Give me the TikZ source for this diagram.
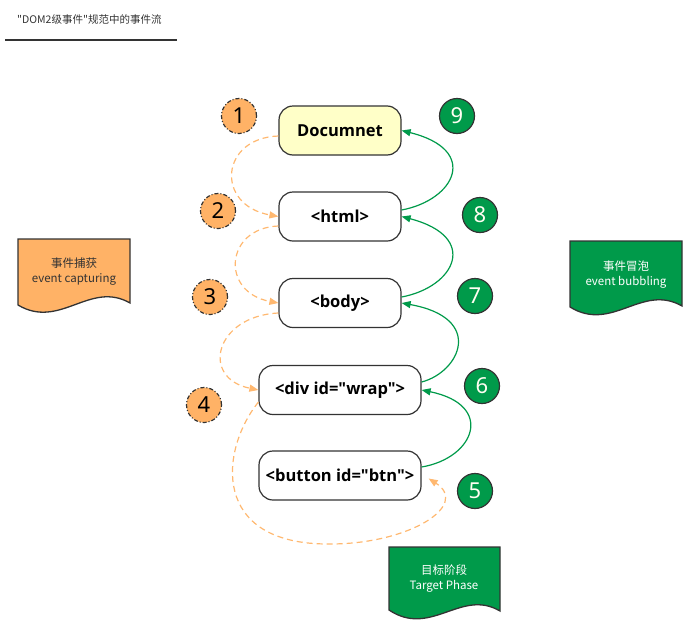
\documentclass[tikz,border=0pt]{standalone}
\usepackage{fontspec}
\setmainfont{Noto Sans}
\newfontfamily\cjk{Noto Sans CJK SC}
\newfontfamily\elemfont{Open Sans}
\usetikzlibrary{arrows.meta}
\newcommand\dq{\symbol{34}}
\definecolor{orfill}{HTML}{FFB266}
\definecolor{orline}{HTML}{FFB870}
\definecolor{gr}{HTML}{009A4A}
\definecolor{bd}{HTML}{333333}
\definecolor{docyel}{HTML}{FFFFC8}
\tikzset{
  elem/.style={draw=bd, line width=1.2pt, rounded corners=14pt, fill=white,
    minimum height=49pt, inner sep=0pt, font=\elemfont\bfseries\fontsize{16.5}{19}\selectfont},
  ocirc/.style={circle, draw=bd, line width=1.2pt, dash pattern=on 4pt off 2pt on 1pt off 2pt,
    fill=orfill, minimum size=35pt, inner sep=0pt, font=\fontsize{22}{24}\selectfont},
  gcirc/.style={circle, draw=bd, line width=1.2pt, fill=gr, text=white!95!yellow,
    minimum size=35pt, inner sep=0pt, font=\fontsize{22}{24}\selectfont},
  garrow/.style={draw=gr, line width=1.2pt, -{Triangle[length=9pt,width=7pt]}},
  oarrow/.style={draw=orline, line width=1.2pt, dashed, dash pattern=on 6pt off 4pt, -{Triangle[length=9pt,width=7pt]}},
  docbox/.style={draw=bd, line width=1.3pt},
  doctext/.style={align=center, font=\cjk\fontsize{11.5}{15}\selectfont, inner sep=0pt}
}
\begin{document}
\begin{tikzpicture}[x=1pt,y=-1pt]
\useasboundingbox (0,0) rectangle (698,632);
% title
\node[anchor=west, inner sep=0pt, text=bd, font=\cjk\fontsize{10.5}{12}\selectfont] (title) at (17,20) {\dq DOM2级事件\dq 规范中的事件流};
\draw[bd, line width=1.5pt] (5,40) coordinate (tl) -- (177,40) coordinate (tr);
% elements
\node[elem, fill=docyel, minimum width=122pt] (doc) at (340,130.5) {Documnet};
\node[elem, minimum width=122pt] (html) at (340,216.5) {<html>};
\node[elem, minimum width=122pt] (body) at (340,303) {<body>};
\node[elem, minimum width=162pt] (div) at (340,390) {<div id=\dq wrap\dq>};
\node[elem, minimum width=162pt] (btn) at (340,475.5) {<button id=\dq btn\dq>};
% orange circles
\node[ocirc] (c1) at (239,116) {1};
\node[ocirc] (c2) at (218,211) {2};
\node[ocirc] (c3) at (210,297) {3};
\node[ocirc] (c4) at (204,405) {4};
% green circles
\node[gcirc] (c9) at (457,116) {9};
\node[gcirc] (c8) at (480,215) {8};
\node[gcirc] (c7) at (475,296) {7};
\node[gcirc] (c6) at (482,386) {6};
\node[gcirc] (c5) at (475,491) {5};
% capture arrows
\draw[oarrow] ([yshift=-5.5pt]doc.west) .. controls (220,138) and (215,205) .. (html.west);
\draw[oarrow] ([yshift=-9.5pt]html.west) .. controls (225,228) and (220,292) .. (body.west);
\draw[oarrow] ([yshift=-10pt]body.west) .. controls (215,316) and (200,378) .. (div.west);
\draw[oarrow] ([yshift=-12pt]div.west) .. controls (220,450) and (210,545) .. (330,544)
   .. controls (410,544) and (470,505) .. ([xshift=7pt,yshift=-3pt]btn.east);
% bubble arrows
\draw[garrow] ([yshift=6.5pt]html.east) .. controls (455,200) and (480,150) .. (doc.east);
\draw[garrow] ([yshift=6pt]body.east) .. controls (455,287) and (480,237) .. (html.east);
\draw[garrow] ([yshift=8pt]div.east) .. controls (460,372) and (485,318) .. (body.east);
\draw[garrow] ([yshift=8.5pt]btn.east) .. controls (475,458) and (495,405) .. (div.east);
% document shapes
\draw[docbox, fill=orfill] (18,239) coordinate (d1) -- (130,239) -- (130,303) .. controls (90,280) and (60,330) .. (18,305) -- cycle;
\node[doctext, text=bd] (cap) at (74,272) {事件捕获\\event capturing};
\draw[docbox, fill=gr] (570,241) coordinate (d2) -- (682,241) -- (682,306) .. controls (642,283) and (612,333) .. (570,307) -- cycle;
\node[doctext, text=white] (bub) at (626,275) {事件冒泡\\event bubbling};
\draw[docbox, fill=gr] (389,547) coordinate (d3) -- (500,547) -- (500,611) .. controls (461,588) and (431,638) .. (389,610) -- cycle;
\node[doctext, text=white] (tgt) at (444,579) {目标阶段\\Target Phase};
\end{tikzpicture}
\end{document}
